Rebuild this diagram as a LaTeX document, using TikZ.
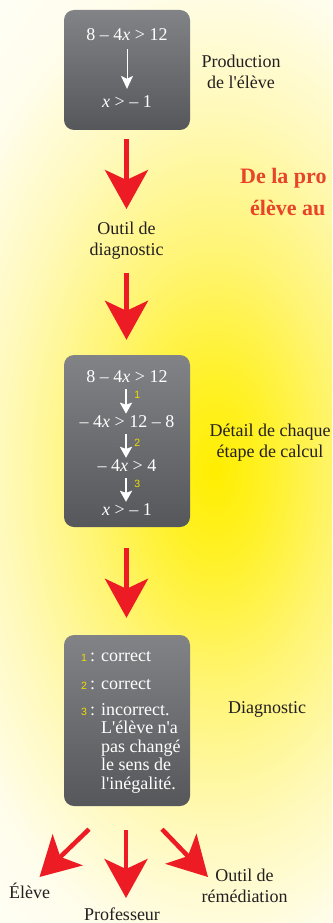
\documentclass[tikz,border=0pt]{standalone}
\usepackage{fontspec}
\setmainfont{Liberation Serif}
\setsansfont{Liberation Sans}
\usepackage{xcolor}
\usetikzlibrary{positioning,arrows.meta}
\definecolor{ink}{RGB}{35,31,32}
\definecolor{glowcore}{RGB}{255,238,0}
\definecolor{glowinner}{RGB}{255,241,40}
\definecolor{glowmid}{RGB}{255,245,120}
\definecolor{glowpale}{RGB}{255,249,185}
\definecolor{glowedge}{RGB}{255,253,235}
\definecolor{glowout}{RGB}{255,254,246}
\definecolor{boxtop}{RGB}{130,131,135}
\definecolor{boxbot}{RGB}{86,87,90}
\definecolor{arrowred}{RGB}{237,28,36}
\definecolor{titlered}{RGB}{232,68,42}
\definecolor{stepyellow}{RGB}{240,222,0}
\pgfdeclareradialshading{glow}{\pgfpoint{0bp}{0bp}}{%
  color(0bp)=(glowcore); color(4bp)=(glowinner); color(10bp)=(glowmid);
  color(16bp)=(glowpale); color(22bp)=(glowedge); color(27bp)=(glowout);
  color(50bp)=(glowout)}
\newcommand{\stepmark}[1]{\textcolor{stepyellow}{\sffamily\fontsize{10.5}{12}\selectfont#1}}
\newcommand{\apos}{\textquotesingle}
\tikzset{
  greybox/.style={rectangle, rounded corners=10pt, top color=boxtop, bottom color=boxbot,
    minimum width=126pt, inner sep=0pt},
  eq/.style={text=white, font=\fontsize{18}{21}\selectfont, inner sep=1pt},
  verdict/.style={text=white, font=\fontsize{18}{18.5}\selectfont, inner sep=0pt,
    anchor=base west, align=left},
  lbl/.style={text=ink, align=center, font=\fontsize{18}{21}\selectfont, inner sep=1pt},
  stepnum/.style={text=stepyellow, font=\sffamily\fontsize{10.5}{12}\selectfont, inner sep=1pt},
  titletxt/.style={text=titlered, font=\bfseries\fontsize{22}{26}\selectfont,
    anchor=base west, inner sep=0pt},
  bigarrow/.style={-{Stealth[length=39pt,width=43pt,inset=10pt]}, line width=4.5pt,
    draw=arrowred},
  warrow/.style={-{Stealth[length=11pt,width=12pt,inset=2pt]}, line width=2.6pt, draw=white},
  thinarrow/.style={-{Stealth[length=13pt,width=12pt,inset=3pt]}, line width=1pt, draw=white},
}
\begin{document}
\begin{tikzpicture}[x=1pt,y=-1pt]
  \useasboundingbox (0,0) rectangle (332,923);
  \begin{scope}
    \clip (0,0) rectangle (332,923);
    \shade[shading=glow] (-115,-90) rectangle (545,1030);
  \end{scope}
  % production de l'eleve
  \node[greybox, minimum height=120pt] (prodbox) at (127,70) {};
  \node[eq] (p1) at (127,35) {8 – 4\textit{x} > 12};
  \node[eq] (p2) at (127,102) {\textit{x} > – 1};
  \draw[thinarrow, shorten <=7pt, shorten >=6pt] (p1) -- (p2);
  \node[lbl] (prodlbl) at (241,72) {Production\\de l\apos élève};
  \node[titletxt] (title1) at (240,183) {De la pro};
  \node[titletxt] (title2) at (250,215) {élève au};
  % outil de diagnostic
  \node[lbl] (tool) at (126.5,241) {Outil de\\diagnostic};
  \draw[bigarrow] ([shift={(-0.5,9)}]prodbox.south) -- ([shift={(0,-32)}]tool.center);
  % detail des etapes
  \node[greybox, minimum height=172pt] (stepbox) at (127,441) {};
  \node[eq] (s1) at (127,377) {8 – 4\textit{x} > 12};
  \node[eq] (s2) at (127,422) {– 4\textit{x} > 12 – 8};
  \node[eq] (s3) at (127,466) {– 4\textit{x} > 4};
  \node[eq] (s4) at (127,510) {\textit{x} > – 1};
  \draw[warrow, shorten <=5pt, shorten >=1pt] ([xshift=-1pt]s1.south) --
    node[stepnum, anchor=west, xshift=6pt, pos=.35] {1} ([xshift=-1pt]s2.north);
  \draw[warrow, shorten <=5pt, shorten >=1pt] ([xshift=-1pt]s2.south) --
    node[stepnum, anchor=west, xshift=6pt, pos=.45] {2} ([xshift=-1pt]s3.north);
  \draw[warrow, shorten <=5pt, shorten >=1pt] ([xshift=-1pt]s3.south) --
    node[stepnum, anchor=west, xshift=6pt, pos=.35] {3} ([xshift=-1pt]s4.north);
  \node[lbl] (steplbl) at (270,443) {Détail de chaque\\étape de calcul};
  \draw[bigarrow] ([shift={(0,31.5)}]tool.center) -- ([shift={(-0.5,-15)}]stepbox.north);
  % diagnostic
  \node[greybox, minimum height=171pt] (diagbox) at (127,720.5) {};
  \node[verdict] (d1) at (81,661) {\stepmark{1}\,: correct};
  \node[verdict] (d2) at (81,689) {\stepmark{2}\,: correct};
  \node[verdict] (d3) at (81,715) {\stepmark{3}\,: \begin{tabular}[t]{@{}l@{}}incorrect.\\
    L\apos élève n\apos a\\ pas changé\\ le sens de\\ l\apos inégalité.\end{tabular}};
  \node[lbl] (diaglbl) at (267,709) {Diagnostic};
  \draw[bigarrow] ([shift={(-0.5,21)}]stepbox.south) -- ([shift={(-0.5,-17)}]diagbox.north);
  % destinataires
  \node[lbl] (eleve) at (29.5,891) {Élève};
  \node[lbl] (prof) at (122,914) {Professeur};
  \node[lbl] (remed) at (244.5,885.5) {Outil de\\rémédiation};
  \draw[bigarrow] ([shift={(-38,23)}]diagbox.south) -- ([shift={(10,-14)}]eleve.center);
  \draw[bigarrow] ([shift={(-1,24)}]diagbox.south) -- ([shift={(4,-16)}]prof.center);
  \draw[bigarrow] ([shift={(35,23)}]diagbox.south) -- ([shift={(-36.5,-8.5)}]remed.center);
\end{tikzpicture}
\end{document}
